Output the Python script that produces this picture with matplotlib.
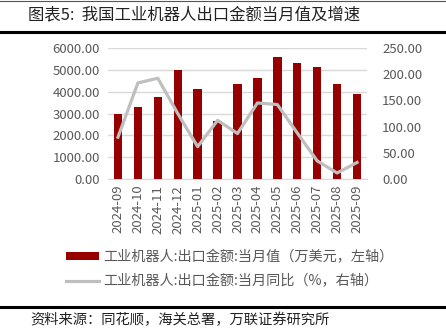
import matplotlib
matplotlib.use("Agg")
import matplotlib.pyplot as plt
from matplotlib.lines import Line2D
from matplotlib.patches import Patch
from matplotlib.ticker import FormatStrFormatter, MultipleLocator

plt.rcParams['font.family'] = ['Noto Sans CJK SC', 'DejaVu Sans']

months = ["2024-09", "2024-10", "2024-11", "2024-12", "2025-01", "2025-02", "2025-03",
          "2025-04", "2025-05", "2025-06", "2025-07", "2025-08", "2025-09"]
export_value = [2970, 3300, 3760, 4980, 4120, 2660, 4350, 4620, 5560, 5290, 5110, 4330, 3890]
export_yoy = [80, 183, 192, 125, 62, 112, 87, 145, 142, 88, 35, 12, 32]

bar_color = "#960000"
line_color = "#bfbfbf"
tick_color = "#595959"

fig = plt.figure(figsize=(4.46, 3.36), dpi=100)
W, H = 446, 336

# main plot area
ax = fig.add_axes([108 / W, 1 - 179.3 / H, 259 / W, 131.6 / H])
x = range(len(months))
ax.bar(x, export_value, width=0.42, color=bar_color, zorder=3)
ax.set_xlim(-0.5, len(months) - 0.5)
ax.set_ylim(0, 6000)
ax.yaxis.set_major_locator(MultipleLocator(1000))
ax.yaxis.set_major_formatter(FormatStrFormatter('%.2f'))
ax.set_xticks(list(x))
ax.set_xticklabels(months, rotation=90)
ax.grid(axis='y', color="#d9d9d9", lw=1.0, zorder=0)
for s in ['top', 'right', 'left']:
    ax.spines[s].set_visible(False)
ax.spines['bottom'].set_color("#d9d9d9")
ax.tick_params(axis='both', length=0, labelsize=9.5, colors=tick_color, pad=6)
ax.tick_params(axis='x', pad=4)

ax2 = ax.twinx()
ax2.plot(list(x), export_yoy, color=line_color, lw=2.3, zorder=4)
ax2.set_ylim(0, 250)
ax2.yaxis.set_major_locator(MultipleLocator(50))
ax2.yaxis.set_major_formatter(FormatStrFormatter('%.2f'))
for s in ax2.spines.values():
    s.set_visible(False)
ax2.tick_params(axis='y', length=0, labelsize=9.5, colors=tick_color, pad=11)

# title and rules
fig.text(28 / W, 1 - 15 / H, "图表5:  我国工业机器人出口金额当月值及增速",
         fontsize=11.8, va='center', ha='left', color='#222222')
fig.add_artist(Line2D([0, 1], [1 - 0.5 / H, 1 - 0.5 / H], color='#555555', lw=0.8))
fig.add_artist(Line2D([0, 1], [1 - 32 / H, 1 - 32 / H], color='black', lw=2.2))
fig.add_artist(Line2D([0, 1], [1 - 306.5 / H, 1 - 306.5 / H], color='black', lw=2.2))

# legend
handles = [Patch(facecolor=bar_color, edgecolor='none'),
           Line2D([0], [0], color=line_color, lw=2.3)]
labels = ["工业机器人:出口金额:当月值（万美元，左轴）",
          "工业机器人:出口金额:当月同比（%，右轴）"]
fig.legend(handles, labels, loc='upper left', bbox_to_anchor=(66 / W, 1 - 250 / H),
           frameon=False, fontsize=10.2, handlelength=2.3, handleheight=0.5,
           handletextpad=0.35, labelspacing=0.7, borderpad=0, borderaxespad=0,
           labelcolor=tick_color)

fig.text(30 / W, 1 - 320 / H, "资料来源：同花顺，海关总署，万联证券研究所",
         fontsize=10.3, va='center', ha='left', color='#222222', style='italic')

fig.savefig("out.png", dpi=100)
